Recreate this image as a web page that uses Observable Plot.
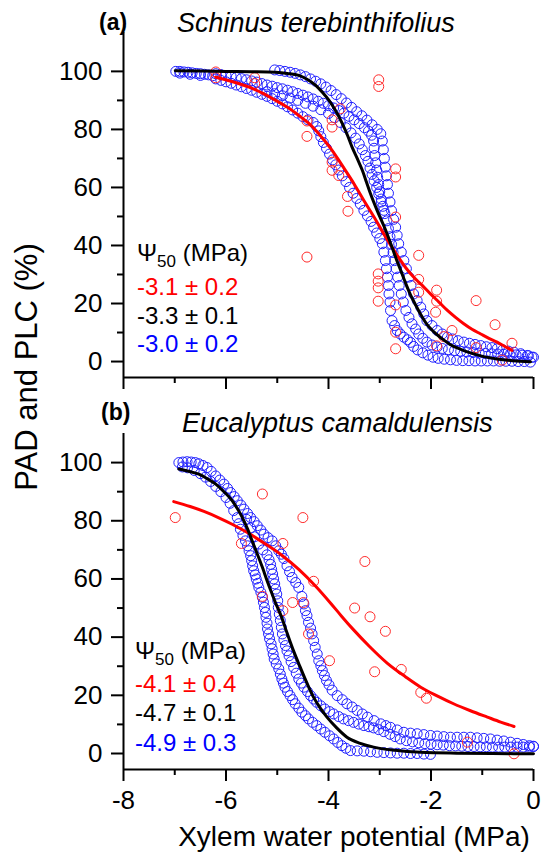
<!DOCTYPE html>
<html><head><meta charset="utf-8">
<script src="https://cdn.jsdelivr.net/npm/d3@7"></script>
<script src="https://cdn.jsdelivr.net/npm/@observablehq/plot@0.6"></script>
<style>
body{margin:0;background:#fff;}
#root{position:relative;width:542px;height:854px;font-family:"Liberation Sans",Arial,sans-serif;overflow:hidden;}
#root svg{position:absolute;left:0;overflow:visible;}
.lab{position:absolute;white-space:nowrap;line-height:1;}
</style></head><body><div id="root"></div>
<script>
// ---------- tick labels ----------
const yTicks = [0, 20, 40, 60, 80, 100];
const yMinor = [10, 30, 50, 70, 90];
const xTicks = [-8, -6, -4, -2, 0];
const xMinor = [-7, -5, -3, -1];

// ---------- panel (a) Schinus terebinthifolius ----------
const aBlueStart = [[-6.98,100],[-6.9,100],[-6.82,99.8],[-6.74,99.7],[-6.66,99.5],[-6.58,99.3],[-6.5,99.2],[-6.42,99],[-6.34,98.8],[-6.26,98.5],[-6.9,99.4],[-6.7,99],[-6.5,98.6]];
const aBlueU = [[-5.05,100.5],[-4.95,100.3],[-4.85,100],[-4.75,99.7],[-4.65,99.3],[-4.55,98.8],[-4.45,98.2],[-4.35,97.4],[-4.25,96.6],[-4.15,95.7],[-4.05,94.6],[-3.95,93.4],[-3.85,92],[-3.75,90.6],[-3.65,89.1],[-3.55,87.6],[-3.45,86.1],[-3.35,84.7],[-3.25,83.2],[-3.15,81.6],[-3.05,80],[-2.98,78.5],[-2.95,76],[-2.93,73],[-2.91,70],[-2.89,67],[-2.87,64],[-2.85,61],[-2.83,58],[-2.8,55],[-2.77,52],[-2.73,49],[-2.69,46.3],[-2.66,43.5],[-2.63,40.6],[-2.58,37.7],[-2.53,34.8],[-2.48,32],[-2.43,29.1],[-2.39,26.2],[-2.34,23.3],[-2.27,21],[-2.2,18.7],[-2.14,16.4],[-2.08,14.1],[-1.98,12.4],[-1.88,10.7],[-1.78,9.5],[-1.68,8.4],[-1.58,7.8],[-1.47,7.2],[-1.36,6.7],[-1.25,6.3],[-1.14,5.9],[-1.03,5.5],[-0.92,5.1],[-0.81,4.8],[-0.71,4.4],[-0.6,4],[-0.49,3.6],[-0.38,3.2],[-0.25,2.7],[-0.12,2.1],[-0.03,1.5]];
const aBlueM = [[-6.2,99.2],[-6.1,98.9],[-6.0,98.6],[-5.9,98.3],[-5.8,97.9],[-5.7,97.5],[-5.6,97.1],[-5.5,96.7],[-5.4,96.3],[-5.3,95.8],[-5.2,95.3],[-5.1,94.9],[-5.0,94.4],[-4.9,94],[-4.8,93.5],[-4.7,93],[-4.6,92.4],[-4.5,91.8],[-4.4,91.2],[-4.3,90.5],[-4.2,89.7],[-4.1,89],[-4.0,88.2],[-3.9,87.4],[-3.8,86.5],[-3.7,85.6],[-3.6,84.5],[-3.5,83.3],[-3.4,82],[-3.3,80.6],[-3.22,79.4],[-3.16,78],[-3.12,76],[-3.11,73.5],[-3.1,71],[-3.08,68.5],[-3.06,66],[-3.04,63.5],[-3.02,61],[-3.0,58.5],[-2.97,56],[-2.94,53.5],[-2.9,51],[-2.86,48.5],[-2.83,45.8],[-2.8,43],[-2.77,40.4],[-2.74,37.6],[-2.71,34.8],[-2.68,32],[-2.65,29.1],[-2.62,26.2],[-2.58,23.3],[-2.54,20.5],[-2.49,17.6],[-2.43,15.2],[-2.37,13],[-2.3,11.2],[-2.24,9.5],[-2.16,8],[-2.08,6.7],[-1.98,5.7],[-1.88,5],[-1.78,4.5],[-1.66,4.1],[-1.54,3.8],[-1.42,3.5],[-1.3,3.3],[-1.18,3.1],[-1.06,2.9],[-0.94,2.8],[-0.82,2.7],[-0.7,2.6],[-0.58,2.5],[-0.46,2.4],[-0.34,2.3],[-0.22,2.2],[-0.1,2.0],[0,1.5]];
const aBlueM2 = [[-5.2,93],[-5.05,92.3],[-4.9,91.6],[-4.75,90.8],[-4.6,90],[-4.45,89],[-4.3,88],[-4.15,86.8],[-4.0,85.5],[-3.88,84],[-3.77,82.4],[-3.66,80.6],[-3.56,78.8],[-3.47,77],[-3.4,75],[-3.34,73],[-3.28,71],[-3.23,69],[-3.19,66.7],[-3.15,64.5],[-3.11,62.3],[-3.06,60],[-3.02,57.8],[-2.97,55],[-2.92,52.1]];
const aBlueL = [[-6.2,97.4],[-6.1,96.9],[-6.0,96.4],[-5.9,95.9],[-5.8,95.3],[-5.7,94.7],[-5.6,94.1],[-5.5,93.5],[-5.4,92.8],[-5.3,92.1],[-5.2,91.4],[-5.1,90.6],[-5.0,89.7],[-4.9,88.8],[-4.8,87.8],[-4.7,86.7],[-4.6,85.6],[-4.5,84.4],[-4.4,83.3],[-4.3,82.4],[-4.23,81],[-4.19,79.5],[-4.15,77.5],[-4.1,75.5],[-4.04,73.5],[-3.98,71.5],[-3.92,69.5],[-3.86,67.8],[-3.8,66],[-3.73,64],[-3.66,62],[-3.59,60],[-3.52,58],[-3.45,56.2],[-3.38,54.3],[-3.31,52.1],[-3.24,50.2],[-3.17,48.3],[-3.12,46.3],[-3.06,44.3],[-3.0,42.4],[-2.95,40.6],[-2.92,37.7],[-2.89,34.8],[-2.87,32],[-2.85,29.1],[-2.83,26.2],[-2.82,23.3],[-2.8,20.5],[-2.79,17.6],[-2.76,14.1],[-2.71,12.4],[-2.66,10.7],[-2.6,9.5],[-2.53,8.4],[-2.46,7.5],[-2.4,6.6],[-2.34,5.2],[-2.26,4],[-2.16,3],[-2.06,2.2],[-1.96,1.5],[-1.86,1.1],[-1.74,0.8],[-1.62,0.6],[-1.5,0.4],[-1.38,0.3],[-1.26,0.3],[-1.14,0.2],[-1.02,0.2],[-0.9,0.2],[-0.78,0.2],[-0.66,0.1],[-0.54,0.1],[-0.42,0.1],[-0.3,0],[-0.18,0],[-0.06,-0.2]];
const aRedPts = [[-6.2,99.8],[-6.2,97.8],[-5.44,97.8],[-5.44,95.8],[-3.02,97.1],[-3.02,94.8],[-3.77,87.1],[-3.93,83.3],[-3.93,80.8],[-4.42,82.9],[-4.42,77.6],[-3.93,68.7],[-3.93,65.9],[-3.8,64.1],[-2.69,66.4],[-2.69,63.6],[-3.63,56.9],[-3.62,51.8],[-2.69,49.8],[-4.42,36],[-2.24,36.6],[-3.03,30.2],[-3.03,27.7],[-3.03,25.4],[-3.03,20.8],[-2.69,19.5],[-2.69,10.1],[-2.69,4.4],[-2.24,28.3],[-2.24,23.9],[-1.89,24.6],[-1.89,20.8],[-1.91,17],[-1.59,10.7],[-1.75,8.6],[-1.89,5.4],[-1.12,21],[-0.75,12.7],[-1.12,4.8],[-0.42,6.3],[-0.61,0.5]];
const aRedFit = [[-6.2,98],[-5.9,96.6],[-5.55,94.6],[-5.3,92.6],[-5.03,90],[-4.8,87.6],[-4.58,84.8],[-4.4,82.3],[-4.25,79.7],[-4.1,76.6],[-3.93,72.8],[-3.8,69.4],[-3.67,65.9],[-3.5,61.2],[-3.31,55.5],[-3.1,49.5],[-2.92,44],[-2.66,36.6],[-2.5,32.5],[-2.34,29.1],[-2.18,26.4],[-2.01,23.3],[-1.84,20.4],[-1.68,17.6],[-1.52,15.2],[-1.36,13],[-1.2,11.1],[-1.03,9.5],[-0.87,8],[-0.71,6.7],[-0.56,5.2],[-0.42,3.8]];
const aBlackFit = [[-6.99,100.2],[-6.5,100.1],[-6.0,100],[-5.5,99.9],[-5.03,99.7],[-4.8,99.3],[-4.58,98.6],[-4.42,97.3],[-4.25,95.2],[-4.12,92.8],[-3.99,90],[-3.86,86.4],[-3.73,82],[-3.63,78],[-3.54,73.9],[-3.44,70],[-3.34,65.9],[-3.26,61.9],[-3.18,57.8],[-3.05,52],[-2.89,45.5],[-2.76,39.4],[-2.66,34.5],[-2.59,31.4],[-2.5,27.2],[-2.4,23],[-2.3,19.5],[-2.2,16.2],[-2.08,12.8],[-1.95,10.3],[-1.78,7.8],[-1.62,5.8],[-1.42,4.2],[-1.23,3],[-0.97,1.7],[-0.71,0.9],[-0.4,0.3],[-0.06,-0.1]];

// ---------- panel (b) Eucalyptus camaldulensis ----------
const bBlueOuter = [[-6.92,100],[-6.84,100.2],[-6.76,100.3],[-6.68,100.2],[-6.6,100],[-6.53,99.6],[-6.45,99],[-6.37,98.3],[-6.29,97],[-6.2,95.4],[-6.12,94],[-6.04,92.6],[-5.97,91.1],[-5.91,89.7],[-5.84,88.3],[-5.78,86.9],[-5.71,85.4],[-5.65,84],[-5.58,82.5],[-5.52,81.1],[-5.45,79.7],[-5.39,78.3],[-5.32,76.8],[-5.26,75.4],[-5.18,74.2],[-5.1,73.1],[-5.03,71.4],[-4.97,69.7],[-4.92,68.5],[-4.87,67],[-4.81,64.5],[-4.76,62.5],[-4.71,60.5],[-4.64,58.8],[-4.58,57.1],[-4.52,54],[-4.48,51.4],[-4.45,49.1],[-4.42,47.4],[-4.39,45.1],[-4.35,43.1],[-4.32,41.1],[-4.29,38.8],[-4.26,36.5],[-4.22,34.2],[-4.19,31.9],[-4.15,30.2],[-4.12,28.5],[-4.08,26.8],[-4.04,25.1],[-3.99,23.6],[-3.93,21.8],[-3.83,19.9],[-3.73,18.5],[-3.64,17.1],[-3.54,16],[-3.44,14.8],[-3.34,13.6],[-3.24,12.5],[-3.11,11.3],[-2.98,10.2],[-2.88,9.6],[-2.79,9],[-2.66,8.1],[-2.53,7.3],[-2.4,7],[-2.27,6.8],[-2.14,6.5],[-2.01,6.2],[-1.88,6],[-1.75,5.8],[-1.62,5.6],[-1.49,5.6],[-1.36,5.6],[-1.23,5.6],[-1.1,5.4],[-0.97,5.2],[-0.84,5],[-0.71,4.6],[-0.58,4.3],[-0.45,3.9],[-0.32,3.5],[-0.2,3.1],[-0.08,2.7],[0,2.5]];
const bBlueMid = [[-5.6,80.5],[-5.52,77.5],[-5.44,74.5],[-5.36,72],[-5.28,70],[-5.2,68.3],[-5.16,66.6],[-5.13,65],[-5.11,63.3],[-5.09,61.7],[-5.07,60],[-5.05,58.3],[-5.03,56.5],[-5.01,54.8],[-4.99,52.5],[-4.98,50.2],[-4.96,47.9],[-4.94,45.7],[-4.92,43.4],[-4.9,41.1],[-4.87,39.1],[-4.84,37.1],[-4.81,35.3],[-4.77,33.6],[-4.73,31.6],[-4.68,29.6],[-4.63,27.6],[-4.58,25.6],[-4.53,24.2],[-4.48,22.8],[-4.41,21.3],[-4.35,19.9],[-4.29,18.7],[-4.23,17.6],[-4.15,16.4],[-4.07,15.3],[-3.98,14.4],[-3.9,13.6],[-3.8,12.7],[-3.71,11.9],[-3.61,11.3],[-3.51,10.7],[-3.41,10.1],[-3.31,9.6],[-3.21,9.2],[-3.12,8.8],[-3.02,8.2],[-2.92,7.5],[-2.8,6.6],[-2.7,5.8],[-2.6,5],[-2.48,4.4],[-2.36,4],[-2.24,3.7],[-2.12,3.4],[-2.0,3.2],[-1.88,3],[-1.76,2.9],[-1.64,2.7],[-1.52,2.6],[-1.4,2.5],[-1.28,2.4],[-1.16,2.4],[-1.04,2.3],[-0.92,2.3],[-0.8,2.2],[-0.68,2.2],[-0.56,2.2],[-0.44,2.2],[-0.32,2.2],[-0.2,2.2],[-0.08,2.2],[0,2.4]];
const bBlueLeft = [[-6.85,98.5],[-6.75,98.2],[-6.62,97.3],[-6.5,96.2],[-6.4,95],[-6.3,93.5],[-6.2,91.8],[-6.1,90],[-6.0,88],[-5.92,86],[-5.85,83.5],[-5.78,81.1],[-5.75,79],[-5.72,77.1],[-5.67,75],[-5.62,73.1],[-5.58,71.4],[-5.55,69.7],[-5.52,68],[-5.5,66.3],[-5.48,64.5],[-5.46,62.8],[-5.43,61.4],[-5.41,60],[-5.38,58.5],[-5.36,57.1],[-5.32,55.4],[-5.29,53.7],[-5.27,52],[-5.25,50.2],[-5.23,48.5],[-5.22,46.8],[-5.2,44.8],[-5.19,42.8],[-5.17,41.1],[-5.15,39.4],[-5.12,37.7],[-5.1,36],[-5.08,34.2],[-5.06,32.5],[-5.02,30.8],[-4.97,29.1],[-4.94,27.3],[-4.91,25.6],[-4.88,24.2],[-4.85,22.8],[-4.8,21.3],[-4.75,19.9],[-4.7,18.5],[-4.65,17.1],[-4.58,15.6],[-4.52,14.2],[-4.45,13],[-4.39,11.9],[-4.31,10.7],[-4.23,9.6],[-4.15,8.4],[-4.07,7.3],[-3.98,6.1],[-3.9,5],[-3.82,3.8],[-3.74,2.7],[-3.66,1.8],[-3.57,1],[-3.44,0.9],[-3.31,0.8],[-3.18,0.6],[-3.05,0.4],[-2.92,0.3],[-2.79,0.2],[-2.66,0.1],[-2.53,0.1],[-2.4,0],[-2.27,0],[-2.14,-0.2],[-2.01,-0.3]];
const bRedPts = [[-6.99,81.1],[-5.29,89.2],[-4.5,81.1],[-5.7,72.2],[-4.89,72.2],[-3.29,66],[-4.29,59.2],[-5.29,54],[-4.7,51.9],[-4.49,51.9],[-4.89,49.1],[-3.49,50],[-3.19,47],[-2.89,42],[-4.39,41.1],[-3.98,31.9],[-3.1,28.1],[-2.58,28.9],[-2.2,21],[-2.09,19],[-1.29,3.9],[-0.38,-0.1]];
const bRedFit = [[-7.02,86.6],[-6.7,84.9],[-6.43,83.2],[-6.15,81.1],[-5.88,78.8],[-5.55,75.6],[-5.23,72],[-4.9,68],[-4.58,63.3],[-4.25,57.5],[-3.95,51.5],[-3.75,47.3],[-3.51,42.5],[-3.2,36.8],[-2.85,31],[-2.5,26.4],[-2.2,22.8],[-1.88,19.8],[-1.56,17.1],[-1.23,14.7],[-0.9,12.5],[-0.64,10.8],[-0.38,9.3]];
const bBlackFit = [[-6.92,97.8],[-6.73,97],[-6.53,96],[-6.37,94.5],[-6.2,92.6],[-6.04,90],[-5.88,86.9],[-5.78,84.2],[-5.68,81.1],[-5.58,77.2],[-5.49,73.1],[-5.39,68.6],[-5.29,64],[-5.2,59.5],[-5.1,54.8],[-5.02,51.2],[-4.94,48],[-4.81,41.5],[-4.68,35.2],[-4.55,29.6],[-4.42,24.2],[-4.29,19.3],[-4.16,15.6],[-4.03,12.5],[-3.84,8.8],[-3.64,5.6],[-3.38,3.5],[-3.12,2.2],[-2.7,1.1],[-2.2,0.4],[-1.5,0.1],[-0.8,0],[0,-0.1]];

const BLUE = "#1f1fff", RED = "#ff2a2a";
const FONT = "'Liberation Sans', Arial, sans-serif";

function panel({height, marginTop, marginBottom, yTop, blue, redPts, redFit, blackFit, xLabels}) {
  const yBot = -5.5;
  const px = d => d[0], py = d => d[1];
  return Plot.plot({
    width: 542, height, marginLeft: 123, marginRight: 9, marginTop, marginBottom,
    x: {domain: [-8, 0]}, y: {domain: [yBot, yTop]},
    style: {fontFamily: FONT, fontSize: "26px", color: "black", background: "transparent", overflow: "visible"},
    marks: [
      ...blue.map(b => Plot.dot(b, {x: px, y: py, r: 5, stroke: BLUE, strokeWidth: 1, fill: "none"})),
      Plot.dot(redPts, {x: px, y: py, r: 5, stroke: RED, strokeWidth: 1, fill: "none"}),
      Plot.line(redFit, {x: px, y: py, stroke: "#ff0000", strokeWidth: 3, curve: "monotone-x"}),
      Plot.line(blackFit, {x: px, y: py, stroke: "#000", strokeWidth: 3, curve: "monotone-x"}),
      Plot.ruleX([-8], {y1: yBot, y2: yTop, stroke: "#000", strokeWidth: 2}),
      Plot.ruleY([yBot], {x1: -8, x2: 0, stroke: "#000", strokeWidth: 2}),
      Plot.axisY({ticks: yTicks, tickSize: 12, tickPadding: 9, strokeWidth: 2, label: null, fontSize: 26, tickFormat: d => String(d)}),
      Plot.axisY({ticks: yMinor, tickSize: 6, strokeWidth: 2, label: null, tickFormat: () => ""}),
      Plot.axisX({ticks: xTicks, tickSize: 12, tickPadding: 9, strokeWidth: 2, label: null, fontSize: 26,
        tickFormat: xLabels ? (d => String(d)) : (() => "")}),
      Plot.axisX({ticks: xMinor, tickSize: 6, strokeWidth: 2, label: null, tickFormat: () => ""})
    ]
  });
}

const root = document.getElementById("root");
const svgA = panel({height: 390, marginTop: 32, marginBottom: 13, yTop: 113.4,
  blue: [aBlueStart, aBlueL, aBlueM2, aBlueM, aBlueU], redPts: aRedPts, redFit: aRedFit, blackFit: aBlackFit, xLabels: false});
svgA.style.top = "0px";
root.appendChild(svgA);
const svgB = panel({height: 464, marginTop: 43, marginBottom: 85, yTop: 110,
  blue: [bBlueLeft, bBlueMid, bBlueOuter], redPts: bRedPts, redFit: bRedFit, blackFit: bBlackFit, xLabels: true});
svgB.style.top = "390px";
root.appendChild(svgB);

function label(html, css) {
  const d = document.createElement("div");
  d.className = "lab";
  d.innerHTML = html;
  Object.assign(d.style, css);
  root.appendChild(d);
  return d;
}
label("(a)", {left: "99px", top: "11px", fontSize: "23px", fontWeight: "bold"});
label("Schinus terebinthifolius", {left: "177px", top: "10px", fontSize: "27px", fontStyle: "italic"});
label("(b)", {left: "101px", top: "401px", fontSize: "23px", fontWeight: "bold"});
label("Eucalyptus camaldulensis", {left: "182px", top: "410px", fontSize: "27px", fontStyle: "italic"});
label("Xylem water potential (MPa)", {left: "354px", top: "823px", fontSize: "28px", transform: "translateX(-50%)"});
label("PAD and PLC (%)", {left: "26px", top: "367px", fontSize: "31px", transform: "translate(-50%,-50%) rotate(-90deg)"});

const psi = 'Ψ<span style="font-size:17px;position:relative;top:6px">50</span> (MPa)';
const annA = [[psi, "#000", 241], ["-3.1 ± 0.2", "#ff0000", 275], ["-3.3 ± 0.1", "#000", 304], ["-3.0 ± 0.2", "#0000ff", 332]];
const annB = [[psi, "#000", 639], ["-4.1 ± 0.4", "#ff0000", 672], ["-4.7 ± 0.1", "#000", 701], ["-4.9 ± 0.3", "#0000ff", 731]];
annA.forEach(([t, c, top]) => label(t, {left: "137px", top: top + "px", fontSize: "24px", color: c}));
annB.forEach(([t, c, top]) => label(t, {left: "135px", top: top + "px", fontSize: "24px", color: c}));
</script></body></html>
